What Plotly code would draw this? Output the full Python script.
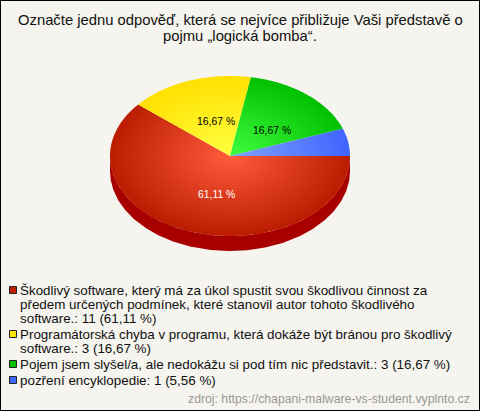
import numpy as np
import plotly.graph_objects as go

# ---- data ----
categories = [
    ["Škodlivý software, který má za úkol spustit svou škodlivou činnost za",
     "předem určených podmínek, které stanovil autor tohoto škodlivého",
     "software.: 11 (61,11 %)"],
    ["Programátorská chyba v programu, která dokáže být bránou pro škodlivý",
     "software.: 3 (16,67 %)"],
    ["Pojem jsem slyšel/a, ale nedokážu si pod tím nic představit.: 3 (16,67 %)"],
    ["pozření encyklopedie: 1 (5,56 %)"],
]
values = [11, 3, 3, 1]
slice_labels = ["61,11 %", "16,67 %", "16,67 %", ""]
title_lines = ["Označte jednu odpověď, která se nejvíce přibližuje Vaši představě o",
               "pojmu „logická bomba“."]
source_text = "zdroj: https://chapani-malware-vs-student.vyplnto.cz"

# ---- styles / layout ----
W, H = 480, 411
CX, CY, RX, RY, DEPTH = 230, 156, 120, 80, 15
BG = "#f5f4ee"
FONT = "Liberation Sans"
GRADIENTS = [("#ff5c3c", "#bb1c00"), ("#ffff40", "#ffe000"), ("#40ff40", "#00c000"), ("#80a4ff", "#4064ff")]
SWATCHES = ["#c02000", "#ffe800", "#00c000", "#4068ff"]
SIDE = "#a80000"
LABEL_OFFSETS = [(-14, 38), (-14, -35), (42, -26), (0, 0)]
LABEL_COLORS = ["#ffffff", "#000000", "#000000", "#000000"]
LEGEND_Y = [290, 334, 364, 380]
LINE_H = 14

fracs = np.array(values, dtype=float) / sum(values)
ends = np.cumsum(fracs) * 2 * np.pi
starts = ends - fracs * 2 * np.pi

fig = go.Figure()

# pie side (lower half of the ellipse extruded downward)
t = np.linspace(0, np.pi, 181)
sx = CX + RX * np.cos(t)
sy = CY + RY * np.sin(t)
fig.add_trace(go.Scatter(
    x=np.r_[sx, sx[::-1]], y=np.r_[sy + DEPTH, sy[::-1]],
    mode="lines", line=dict(width=0), fill="toself", fillcolor=SIDE, hoverinfo="skip", showlegend=False))

# slices, clockwise from 3 o'clock
for s, e, val, grad, cat in zip(starts, ends, values, GRADIENTS, categories):
    a = np.linspace(s, e, max(3, int(np.degrees(e - s))))
    xs = list(CX + RX * np.cos(a))
    ys = list(CY + RY * np.sin(a))
    # zero-area spurs give every slice the full ellipse as bounding box, centring its radial gradient
    xs = [CX, CX + RX, CX, CX - RX, CX, CX, CX, CX, CX] + xs + [CX]
    ys = [CY, CY, CY, CY, CY, CY - RY, CY, CY + RY, CY] + ys + [CY]
    fig.add_trace(go.Scatter(
        x=xs, y=ys, mode="lines", line=dict(width=0, simplify=False), fill="toself",
        fillgradient=dict(type="radial", colorscale=[[0, grad[0]], [1, grad[1]]]),
        name=cat[0], hoverinfo="skip", showlegend=False))

# legend swatches
fig.add_trace(go.Scatter(
    x=[13] * len(values), y=LEGEND_Y, mode="markers",
    marker=dict(symbol="square", size=7, color=SWATCHES, line=dict(color="#222222", width=1)),
    hoverinfo="skip", showlegend=False))

ann = []
for i, line in enumerate(title_lines):
    ann.append(dict(x=240, y=20 + 16 * i, text=line, font=dict(size=14.8, color="#111111"), xanchor="center", yanchor="middle", showarrow=False))
for (dx, dy), lab, col in zip(LABEL_OFFSETS, slice_labels, LABEL_COLORS):
    if lab:
        ann.append(dict(x=CX + dx, y=CY + dy, text=lab, font=dict(size=10.4, color=col), xanchor="center", yanchor="middle", showarrow=False))
for y, cat in zip(LEGEND_Y, categories):
    for i, line in enumerate(cat):
        ann.append(dict(x=20, y=y + LINE_H * i, text=line, font=dict(size=13.4, color="#111111"), xanchor="left", yanchor="middle", showarrow=False))
ann.append(dict(x=470, y=399, text=source_text, font=dict(size=12.25, color="#999999"), xanchor="right", yanchor="middle", showarrow=False))
for a_ in ann:
    a_.update(xref="x", yref="y", borderpad=0, borderwidth=0)

fig.update_layout(
    width=W, height=H, margin=dict(l=0, r=0, t=0, b=0), autosize=False,
    paper_bgcolor=BG, plot_bgcolor=BG,
    font=dict(family=FONT, color="#111111"),
    xaxis=dict(range=[0, W], visible=False, fixedrange=True),
    yaxis=dict(range=[H, 0], visible=False, fixedrange=True),
    annotations=ann,
    shapes=[dict(type="rect", xref="paper", yref="paper", x0=0, y0=0, x1=1, y1=1, line=dict(color="#000000", width=2), fillcolor="rgba(0,0,0,0)")],
)
fig.write_html("out.html", config=dict(displayModeBar=False),
               post_script="document.body.style.margin='0';document.documentElement.style.overflow='hidden';")
